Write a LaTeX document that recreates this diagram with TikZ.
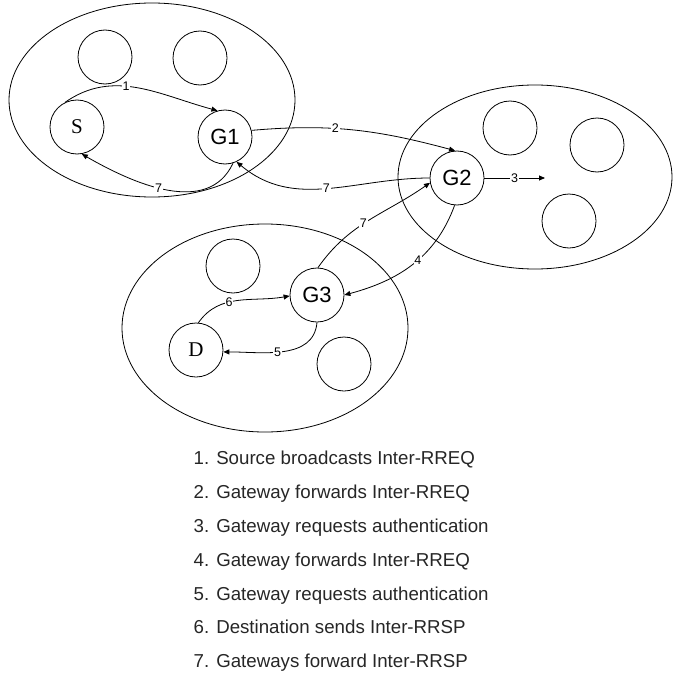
\documentclass[tikz,border=0pt]{standalone}
\usepackage{fontspec}
\setmainfont{Liberation Sans}
\newfontfamily\seriffont{Liberation Serif}
\usetikzlibrary{arrows.meta}
\begin{document}
\begin{tikzpicture}[x=1pt,y=-1pt,
  line width=0.8pt,
  host/.style={circle,draw,minimum size=54pt,inner sep=0pt},
  gw/.style={host,font=\fontsize{22}{22}\selectfont},
  end/.style={host,font=\seriffont\fontsize{21}{21}\selectfont},
  cluster/.style={draw},
  link/.style={-{Triangle[length=6pt,width=5pt]}},
  lbl/.style={fill=white,inner sep=0.8pt,font=\fontsize{12.5}{12.5}\selectfont},
  legend/.style={anchor=base west,text=black!85,font=\fontsize{18.7}{18.7}\selectfont}]
\useasboundingbox (0,0) rectangle (672,677);

% clusters
\draw[cluster] (152,100) ellipse [x radius=143pt, y radius=97pt];
\draw[cluster] (535,177) ellipse [x radius=137pt, y radius=92pt];
\draw[cluster] (265,328) ellipse [x radius=143pt, y radius=104pt];

% first cluster
\node[host] (a1) at (105,57) {};
\node[host] (a2) at (200,58) {};
\node[end] (S) at (77,127) {S};
\node[gw] (G1) at (225,137) {G1};

% second cluster
\node[gw] (G2) at (457,178) {G2};
\node[host] (b1) at (510,128) {};
\node[host] (b2) at (597,145) {};
\node[host] (b3) at (569,221) {};

% third cluster
\node[host] (c1) at (233,266) {};
\node[gw] (G3) at (317,295) {G3};
\node[end] (D) at (196,350) {D};
\node[host] (c2) at (344,364) {};

\coordinate (auth) at (545,178);

% message flow
\draw[link] (S.116) to[out=35,in=165] node[lbl,pos=0.42] {1} (G1.106);
\draw[link] (G1.14) to[out=5,in=165] node[lbl,pos=0.4] {2} (G2.94);
\draw[link] (G2.east) -- node[lbl] {3} (auth);
\draw[link] (G2.-95) to[out=-110,in=15] node[lbl,pos=0.45] {4} (G3.east);
\draw[link] (G3.-90) to[out=-95,in=0] node[lbl,pos=0.55] {5} (D.-4);
\draw[link] (D.85) to[out=55,in=190] node[lbl,pos=0.4] {6} (G3.182);
\draw[link] (G3.88) to[out=55,in=215] node[lbl,pos=0.45] {7} (G2.190);
\draw[link] (G2.180) to[out=180,in=-40] node[lbl,pos=0.5] {7} (G1.-65);
\draw[link] (G1.-73) to[out=-115,in=-30] node[lbl,pos=0.55] {7} (S.-80);

% legend
\node[legend] (l1) at (190,464) {1. Source broadcasts Inter-RREQ};
\node[legend] (l2) at (190,498) {2. Gateway forwards Inter-RREQ};
\node[legend] (l3) at (190,532) {3. Gateway requests authentication};
\node[legend] (l4) at (190,566) {4. Gateway forwards Inter-RREQ};
\node[legend] (l5) at (190,600) {5. Gateway requests authentication};
\node[legend] (l6) at (190,633) {6. Destination sends Inter-RRSP};
\node[legend] (l7) at (190,667) {7. Gateways forward Inter-RRSP};
\end{tikzpicture}
\end{document}
